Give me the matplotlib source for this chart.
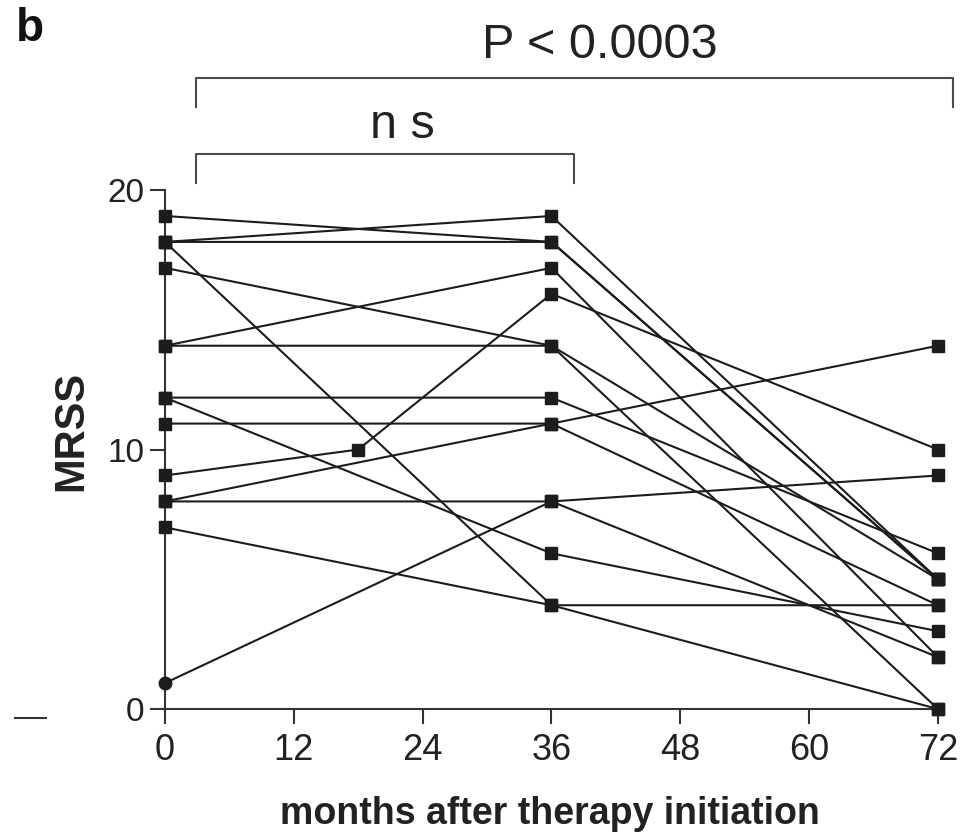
import matplotlib
matplotlib.use("Agg")
import matplotlib.pyplot as plt
from matplotlib import font_manager
from matplotlib.lines import Line2D

# MRSS per patient at 0, 36 and 72 months
months = [0, 36, 72]
mrss_0 = [19, 18, 18, 18, 17, 14, 14, 12, 12, 11, 9, 8, 8, 7, 1]
mrss_36 = [18, 19, 18, 4, 14, 17, 14, 12, 6, 11, 16, 11, 8, 4, 8]
mrss_72 = [5, 5, 5, 0, 5, 2, 0, 6, 3, 4, 10, 14, 2, 4, 9]

# one patient had an extra visit at 18 months
extra_patient = 10
extra_month = 18
extra_value = 10

# patient drawn with a round marker
round_patient = 14

x_ticks = [0, 12, 24, 36, 48, 60, 72]
y_ticks = [0, 10, 20]

bracket_all = "P < 0.0003"
bracket_36 = "n s"

installed = {f.name for f in font_manager.fontManager.ttflist}
narrow = "Liberation Sans Narrow" if "Liberation Sans Narrow" in installed else "Liberation Sans"
plt.rcParams["font.family"] = ["Liberation Sans", "DejaVu Sans"]

ink = "#1c1c1c"

fig = plt.figure(figsize=(9.74, 8.32), dpi=100)
ax = fig.add_axes([0.1694, 0.1478, 0.7936, 0.6238])

for i in range(len(mrss_0)):
    xs = list(months)
    ys = [mrss_0[i], mrss_36[i], mrss_72[i]]
    if i == extra_patient:
        xs.insert(1, extra_month)
        ys.insert(1, extra_value)
    ax.plot(xs, ys, color=ink, lw=1.5, zorder=2, clip_on=False)
    marker_first = "o" if i == round_patient else "s"
    ax.plot(xs[:1], ys[:1], marker=marker_first, ms=9, color=ink, ls="none",
            zorder=3, clip_on=False)
    ax.plot(xs[1:], ys[1:], marker="s", ms=9, color=ink, ls="none",
            zorder=3, clip_on=False)

ax.set_xlim(0, 72)
ax.set_ylim(0, 20)
ax.set_xticks(x_ticks)
ax.set_yticks(y_ticks)

for side in ["top", "right"]:
    ax.spines[side].set_visible(False)
for side in ["left", "bottom"]:
    ax.spines[side].set_linewidth(1.5)
    ax.spines[side].set_color("#333333")
ax.tick_params(length=11, width=1.5, color="#333333", pad=4)
ax.tick_params(axis="y", labelsize=24, labelcolor="#222222")
ax.tick_params(axis="x", labelsize=26, labelcolor="#222222", pad=6)
for lab in ax.get_xticklabels():
    lab.set_family([narrow, "DejaVu Sans"])

ax.set_xlabel("months after therapy initiation", fontsize=27, fontweight="bold",
              color="#222222", va="top")
ax.xaxis.set_label_coords(0.498, -0.168)
ax.set_ylabel("MRSS", fontsize=30, fontweight="bold", color="#222222")
ax.yaxis.set_label_coords(-0.095, 0.535)

# significance brackets
gray = "#4a4a4a"
ax.plot([2.85, 2.85, 73.4, 73.4], [23.2, 24.32, 24.32, 23.2], color=gray, lw=1.5,
        clip_on=False)
ax.plot([2.85, 2.85, 38.1, 38.1], [20.27, 21.39, 21.39, 20.27], color=gray, lw=1.5,
        clip_on=False)
ax.text(40.5, 25.1, bracket_all, fontsize=35, ha="center", va="baseline", color="#222222")
ax.text(22.1, 22.0, bracket_36, fontsize=35, ha="center", va="baseline", color="#222222")

fig.text(0.016, 0.992, "b", fontsize=33, fontweight="bold", va="top", color="#111111")
fig.add_artist(Line2D([0.015, 0.047], [0.137, 0.137], color="#333333", lw=1.5))

fig.savefig("out.png", dpi=100)
